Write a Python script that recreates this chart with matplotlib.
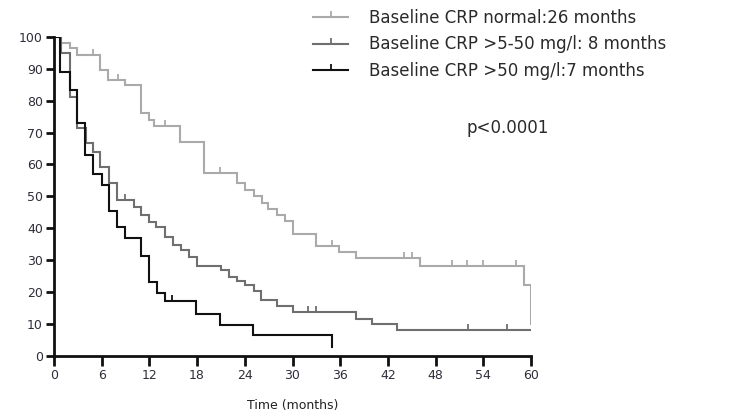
import matplotlib
matplotlib.use("Agg")
import matplotlib.pyplot as plt
import numpy as np
from matplotlib.path import Path
from matplotlib.lines import Line2D

# Kaplan-Meier step data (months, % surviving)
normal_t = [0, 0.9, 2.0, 2.9, 5.8, 6.8, 8.9, 11.0, 11.9, 12.6, 15.8, 18.9, 23.0, 24.0,
            25.1, 26.1, 26.9, 28.0, 29.0, 30.0, 33.0, 35.9, 38.0, 46.0, 59.1, 60.0]
normal_s = [100, 98, 96.5, 94.5, 89.6, 86.5, 84.9, 76, 73.9, 72, 67.1, 57.2, 54.1, 52,
            50.2, 48, 46, 44, 42.3, 38.1, 34.5, 32.4, 30.5, 28, 22, 10]
normal_cens = [4.9, 8.0, 14.0, 20.9, 35.0, 44.0, 45.0, 50.0, 52.0, 54.0, 58.1]
normal_end = 60.0

mid_t = [0, 0.9, 2.0, 2.9, 4.0, 4.9, 5.8, 6.9, 7.9, 10.0, 11.0, 11.9, 12.8, 13.9,
         15.0, 16.0, 17.0, 18.0, 21.0, 22.0, 23.0, 24.0, 25.1, 26.0, 28.0, 30.0,
         38.0, 40.0, 43.1]
mid_s = [100, 95, 81.3, 71.3, 66.6, 64.0, 59.3, 54.1, 48.8, 46.5, 44.1, 42.0, 40.5,
         37.3, 34.7, 33.1, 31.0, 28.1, 26.8, 24.7, 23.5, 22.2, 20.2, 17.5, 15.5, 13.6,
         11.4, 9.9, 8.0]
mid_cens = [8.9, 32.0, 33.0, 52.1, 57.0]
mid_end = 59.9

high_t = [0, 0.75, 2.0, 2.9, 3.9, 4.9, 6.0, 6.9, 7.9, 8.9, 11.0, 11.95, 12.9, 13.9,
          17.9, 20.9, 25.0, 35.0]
high_s = [100, 89, 83.5, 73, 63, 57, 53.5, 45.5, 40.5, 37, 31.3, 23.2, 19.6, 17.2,
          12.9, 9.6, 6.4, 2.8]
high_cens = [14.9]
high_end = 35.0

labels = ["Baseline CRP normal:26 months",
          "Baseline CRP >5-50 mg/l: 8 months",
          "Baseline CRP >50 mg/l:7 months"]
colors = ["#aaaaaa", "#6f6f6f", "#111111"]
x_ticks = [0, 6, 12, 18, 24, 30, 36, 42, 48, 54, 60]
y_ticks = [0, 10, 20, 30, 40, 50, 60, 70, 80, 90, 100]

plt.rcParams['font.family'] = ['DejaVu Sans']

# censor tick: short vertical stroke going up from the curve
up_tick = Path([(0, 0), (0, 1)], [Path.MOVETO, Path.LINETO])


def km_xy(t, s, t_end):
    t = list(t) + [t_end]
    s = list(s) + [s[-1]]
    return t, s


def surv_at(t, s, x):
    idx = np.searchsorted(t, x, side='right') - 1
    return np.array(s)[idx]


fig = plt.figure(figsize=(7.51, 4.18), dpi=100)
ax = fig.add_axes([0.0719, 0.1495, 0.6352, 0.762])

groups = [(normal_t, normal_s, normal_cens, normal_end),
          (mid_t, mid_s, mid_cens, mid_end),
          (high_t, high_s, high_cens, high_end)]

for (t, s, cens, t_end), c in zip(groups, colors):
    xs, ys = km_xy(t, s, t_end)
    ax.step(xs, ys, where='post', color=c, lw=1.5, solid_joinstyle='miter')
    ax.plot(cens, surv_at(t, s, cens), ls='none', marker=up_tick, ms=8,
            mew=1.3, color=c)

ax.set_xlim(0, 60)
ax.set_ylim(0, 100)
ax.set_xticks(x_ticks)
ax.set_yticks(y_ticks)
for sp in ['top', 'right']:
    ax.spines[sp].set_visible(False)
for sp in ['left', 'bottom']:
    ax.spines[sp].set_linewidth(2)
    ax.spines[sp].set_color('#111111')
ax.tick_params(width=2, length=7, labelsize=9, colors='#111111',
               labelcolor='#2e2e3a', pad=3)
ax.tick_params(axis='y', length=6, pad=2)
ax.set_xlabel("Time (months)", fontsize=9, color='#222222', labelpad=12)

handles = [Line2D([], [], color=c, lw=1.5, marker=up_tick, ms=8, mew=1.3)
           for c in colors]
fig.legend(handles, labels, loc='upper left', bbox_to_anchor=(0.405, 1.0),
           frameon=False, fontsize=12, handlelength=2.1, handletextpad=1.25,
           labelspacing=0.5, borderaxespad=0.15, labelcolor='#2a2a2a')
fig.text(0.676, 0.694, "p<0.0001", fontsize=12, color='#2a2a2a',
         ha='center', va='center')

fig.savefig("out.png", dpi=100)
